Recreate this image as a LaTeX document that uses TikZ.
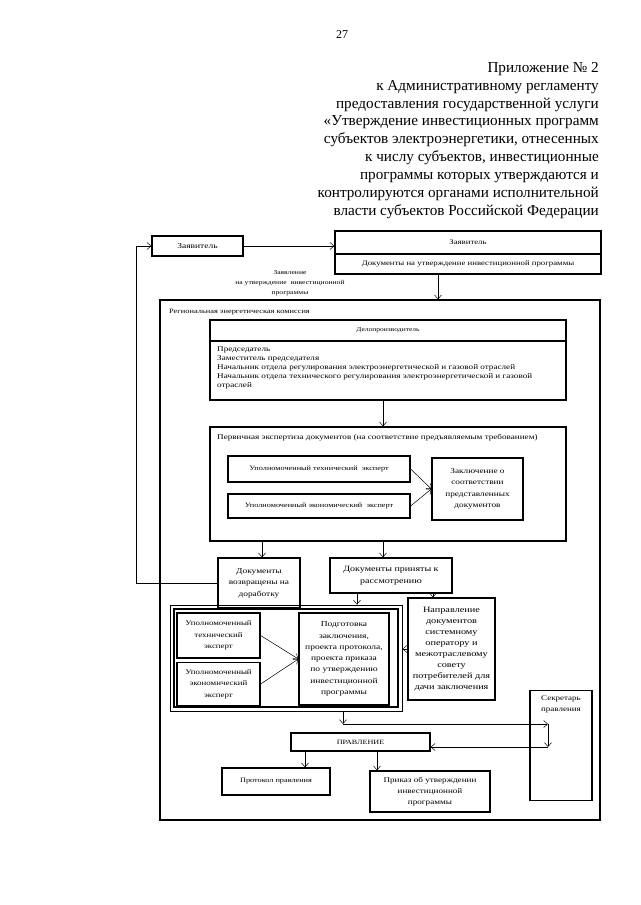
\documentclass[tikz,border=0pt]{standalone}
\usepackage{fontspec}
\setmainfont{Liberation Serif}
\newfontfamily\df[FakeStretch=1.25]{Liberation Serif}
\usetikzlibrary{arrows.meta}
\newcommand{\fs}[2]{\df\fontsize{#1}{#2}\selectfont}
\begin{document}
\begin{tikzpicture}[x=1pt,y=-1pt,
  box/.style={draw,line width=1.3pt,inner sep=1pt,align=center,font=\fs{8}{11}},
  frame/.style={draw,line width=1.1pt,inner sep=0pt},
  lbl/.style={inner sep=0pt,align=center,font=\fs{6.1}{10}},
  arr/.style={line width=0.5pt,-{Straight Barb[length=4pt,width=7pt,line width=0.5pt]}},
  ln/.style={line width=0.5pt}]
\useasboundingbox (0,0) rectangle (640,905);
\node[inner sep=0pt,font=\fontsize{12}{14}\selectfont] (pg) at (342,35) {27};
\node[inner sep=0pt,anchor=north east,align=right,font=\fontsize{15.2}{17.9}\selectfont] (hdr) at (599,62) {Приложение № 2\\к Административному регламенту\\предоставления государственной услуги\\«Утверждение инвестиционных программ\\субъектов электроэнергетики, отнесенных\\к числу субъектов, инвестиционные\\программы которых утверждаются и\\контролируются органами исполнительной\\власти субъектов Российской Федерации};
% top
\node[box,font=\fs{7.6}{10},minimum width=91pt,minimum height=20pt] (z1) at (197.5,246) {Заявитель};
\node[box,font=\fs{7}{10},minimum width=266pt,minimum height=23pt] (z2t) at (468,242.5) {Заявитель};
\node[box,font=\fs{7}{10},minimum width=266pt,minimum height=20pt] (z2b) at (468,264) {Документы на утверждение инвестиционной программы};
\node[lbl] (zl) at (290,283) {Заявление\\на утверждение~~инвестиционной\\программы};
% REK
\node[frame,line width=1.4pt,minimum width=440pt,minimum height=520pt] (rek) at (380,560) {};
\node[inner sep=0pt,anchor=west,font=\fs{6.7}{10}] (rekt) at (169,312) {Региональная энергетическая комиссия};
\node[box,font=\fs{6}{10},minimum width=356pt,minimum height=21pt] (d1) at (388,330.5) {Делопроизводитель};
\node[box,minimum width=356pt,minimum height=59pt] (d2) at (388,370.5) {};
\node[inner sep=0pt,anchor=north west,align=left,font=\fs{7.3}{9}] (d2t) at (217,347) {Председатель\\Заместитель председателя\\Начальник отдела регулирования электроэнергетической и газовой отраслей\\Начальник отдела технического регулирования электроэнергетической и газовой\\отраслей};
\node[box,minimum width=356pt,minimum height=114pt] (p) at (388,484) {};
\node[inner sep=0pt,anchor=west,font=\fs{7.3}{9}] (pt) at (217,438) {Первичная экспертиза документов (на соответствие предъявляемым требованием)};
\node[box,font=\fs{6.6}{10},minimum width=182pt,minimum height=26pt] (te) at (319,469) {Уполномоченный технический~~эксперт};
\node[box,font=\fs{6.6}{10},minimum width=182pt,minimum height=24pt] (ee) at (319,506) {Уполномоченный экономический~~эксперт};
\node[box,font=\fs{7.4}{11.5},minimum width=91pt,minimum height=62pt] (zk) at (477.5,489) {Заключение о\\соответствии\\представленных\\документов};
\node[box,font=\fs{7.5}{11.5},minimum width=82pt,minimum height=50pt] (vz) at (259,583) {Документы\\возвращены на\\доработку};
\node[box,font=\fs{8}{11.5},minimum width=122pt,minimum height=35pt] (pr) at (391,575.5) {Документы приняты к\\рассмотрению};
% group
\node[frame,line width=0.8pt,minimum width=232pt,minimum height=106pt] (go) at (286,658) {};
\node[frame,line width=1.3pt,minimum width=224pt,minimum height=98pt] (gi) at (286,658) {};
\node[box,font=\fs{7.1}{11.5},minimum width=83pt,minimum height=45pt] (te2) at (218.5,635.5) {Уполномоченный\\технический\\эксперт};
\node[box,font=\fs{7.1}{11.5},minimum width=83pt,minimum height=43pt] (ee2) at (218.5,684) {Уполномоченный\\экономический\\эксперт};
\node[box,font=\fs{7.6}{11.3},minimum width=90pt,minimum height=92pt] (pod) at (344,659) {Подготовка\\заключения,\\проекта протокола,\\проекта приказа\\по утверждению\\инвестиционной\\программы};
\node[box,font=\fs{8.2}{11},minimum width=87pt,minimum height=102pt,inner sep=0pt] (np) at (451.5,649) {Направление\\документов\\системному\\оператору и\\межотраслевому\\совету\\потребителей для\\дачи заключения};
\node[box,minimum width=62pt,minimum height=110pt,anchor=north] (sk) at (561,690) {};
\node[lbl,font=\fs{7.2}{11},anchor=north] (skt) at (561,696) {Секретарь\\правления};
\node[box,font=\fs{6.5}{10},minimum width=139pt,minimum height=18pt] (pv) at (360.5,742) {ПРАВЛЕНИЕ};
\node[box,font=\fs{6.6}{10},minimum width=108pt,minimum height=27pt] (pk) at (276,781.5) {Протокол правления};
\node[box,font=\fs{7.3}{11},minimum width=120pt,minimum height=41pt] (pz) at (430,791.5) {Приказ об утверждении\\инвестиционной\\программы};
% coordinates
\coordinate (xa) at (438,0);
\coordinate (xb) at (383,0);
\coordinate (xc) at (262,0);
\coordinate (xd) at (357,0);
\coordinate (xe) at (433,0);
\coordinate (xf) at (343,0);
\coordinate (xg) at (305,0);
\coordinate (xh) at (377,0);
\coordinate (fb) at (136,0);
\coordinate (c1) at (343,724);
\coordinate (c2) at (548,724);
\coordinate (c3) at (548,747);
% connectors
\draw[arr] (z1.east) -- (z1.east -| z2t.west);
\draw[arr] (z2b.south -| xa) -- (rek.north -| xa);
\draw[arr] (d2.south -| xb) -- (p.north -| xb);
\draw[arr] (te.east) -- (zk.west);
\draw[arr] (ee.east) -- (zk.west);
\draw[arr] (p.south -| xc) -- (vz.north -| xc);
\draw[arr] (p.south -| xb) -- (pr.north -| xb);
\draw[arr] (vz.west) -- (vz.west -| fb) |- (z1.west);
\draw[arr] (pr.south -| xd) -- (go.north -| xd);
\draw[arr] (pr.south -| xe) -- (np.north -| xe);
\draw[arr] (te2.east) -- (pod.west);
\draw[arr] (ee2.east) -- (pod.west);
\draw[arr] (np.west) -- (np.west -| go.east);
\draw[arr] (go.south -| xf) -- (c1);
\draw[arr] (c1) -- (c2);
\draw[arr] (c2) -- (c3);
\draw[arr] (c3) -- (c3 -| pv.east);
\draw[arr] (pv.south -| xg) -- (pk.north -| xg);
\draw[arr] (pv.south -| xh) -- (pz.north -| xh);
\end{tikzpicture}
\end{document}
